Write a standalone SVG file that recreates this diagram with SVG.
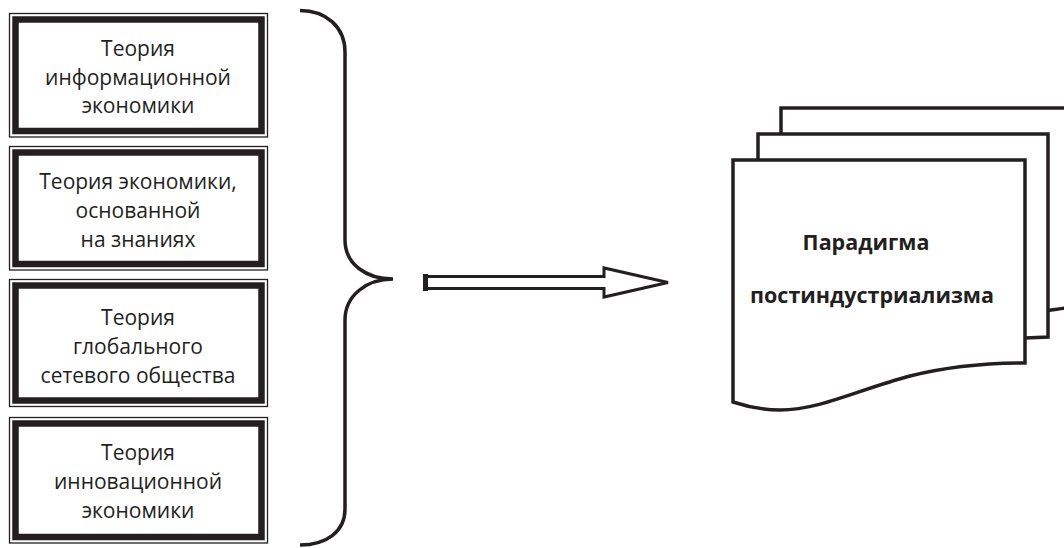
<svg xmlns="http://www.w3.org/2000/svg" width="1064" height="548" viewBox="0 0 1064 548">
  <style>
    .frame-outer { fill: none; stroke: #231f20; stroke-width: 1.3; }
    .frame-inner { fill: #ffffff; stroke: #231f20; stroke-width: 6.5; }
    .label { font-family: "Open Sans", "Liberation Sans", sans-serif; font-size: 21px; fill: #231f20; text-anchor: middle; }
    .doc { fill: #ffffff; stroke: #231f20; stroke-width: 3.5; stroke-linejoin: miter; }
    .doc-label { font-family: "Open Sans", "Liberation Sans", sans-serif; font-size: 21.5px; font-weight: bold; fill: #231f20; text-anchor: middle; }
    .line { fill: none; stroke: #231f20; stroke-width: 3.5; }
  </style>
  <rect width="1064" height="548" fill="#ffffff"/>

  <!-- Theory boxes: thin outer frame with a heavy inner frame -->
  <g id="theory-info">
    <rect class="frame-outer" x="9.5" y="13.5" width="258" height="123.5"/>
    <rect class="frame-inner" x="15.5" y="19.5" width="246" height="111.5"/>
    <text class="label" x="138" y="56">Теория</text>
    <text class="label" x="138" y="85">информационной</text>
    <text class="label" x="138" y="113">экономики</text>
  </g>

  <g id="theory-knowledge">
    <rect class="frame-outer" x="9.5" y="146.5" width="258" height="123.5"/>
    <rect class="frame-inner" x="15.5" y="152.5" width="246" height="111.5"/>
    <text class="label" x="138" y="189">Теория экономики,</text>
    <text class="label" x="138" y="218">основанной</text>
    <text class="label" x="138" y="247">на знаниях</text>
  </g>

  <g id="theory-network">
    <rect class="frame-outer" x="9.5" y="279.5" width="258" height="127"/>
    <rect class="frame-inner" x="15.5" y="285.5" width="246" height="115"/>
    <text class="label" x="138" y="325">Теория</text>
    <text class="label" x="138" y="354">глобального</text>
    <text class="label" x="138" y="383">сетевого общества</text>
  </g>

  <g id="theory-innovation">
    <rect class="frame-outer" x="9.5" y="417.5" width="258" height="125.5"/>
    <rect class="frame-inner" x="15.5" y="423.5" width="246" height="113.5"/>
    <text class="label" x="138" y="460">Теория</text>
    <text class="label" x="138" y="489">инновационной</text>
    <text class="label" x="138" y="518">экономики</text>
  </g>

  <!-- Brace and hollow arrow -->
  <g id="connectors">
    <path class="line" d="M300,10.5 C326,10.5 345,27 345,52 L345,240 C345,264 366,279 393,279 C366,279 345,296 345,320 L345,509 C345,532 326,545 300,545"/>
    <path fill="#ffffff" stroke="#231f20" stroke-width="3" stroke-linejoin="miter" d="M425,276.5 L604,276.5 L604,268 L668,282.5 L604,297 L604,288.5 L425,288.5 Z"/>
    <line x1="425.5" y1="274" x2="425.5" y2="291" stroke="#231f20" stroke-width="5"/>
  </g>

  <!-- Stack of documents -->
  <g id="paradigm">
    <path class="doc" d="M781,310 L781,108 L1066,108 L1066,308 C1060,308.5 1054,309.5 1048,310.5"/>
    <path class="doc" d="M758,337 L758,134 L1048,134 L1048,337 L1025,338"/>
    <path class="doc" d="M733,402 L733,160 L1025,160 L1025,363 C985,363 950,366 910,376 C860,389 820,410 780,410 C760,410 745,406 733,402 Z"/>
    <text class="doc-label" x="866" y="250">Парадигма</text>
    <text class="doc-label" x="872" y="303">постиндустриализма</text>
  </g>
</svg>
